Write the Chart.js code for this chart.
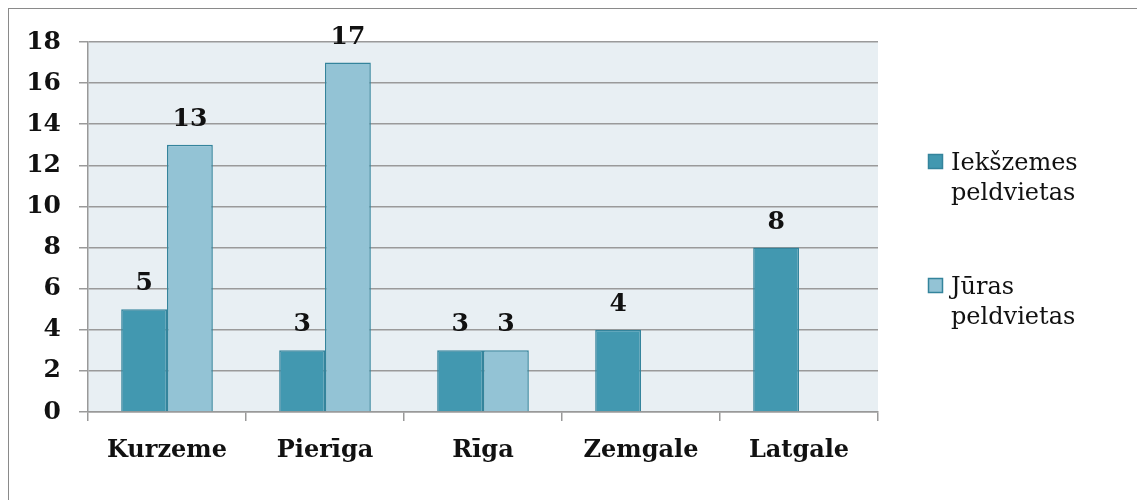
<!DOCTYPE html>
<html>
<head>
<meta charset="utf-8">
<script src="https://cdn.jsdelivr.net/npm/chart.js@4.4.1/dist/chart.umd.min.js"></script>
<style>
html,body{margin:0;padding:0;background:#fff;}
#wrap{width:1137px;height:500px;position:relative;}
</style>
</head>
<body>
<div id="wrap"><canvas id="c" width="1137" height="500"></canvas></div>
<script>
const categories = ["Kurzeme", "Pierīga", "Rīga", "Zemgale", "Latgale"];
const inlandValues = [5, 3, 3, 4, 8];
const seaValues = [13, 17, 3, null, null];
const seriesNames = [["Iekšzemes", "peldvietas"], ["Jūras", "peldvietas"]];
const yTicks = [0, 2, 4, 6, 8, 10, 12, 14, 16, 18];

const FONT = "'DejaVu Serif', serif";
const DARK = "#4298b0";
const LIGHT = "#93c3d5";
const EDGE = "#34849c";

const bgPlugin = {
  id: "bg",
  beforeDraw(chart) {
    const {ctx, chartArea: a} = chart;
    ctx.save();
    ctx.fillStyle = "#fff";
    ctx.fillRect(0, 0, chart.width, chart.height);
    ctx.strokeStyle = "#8a8a8a";
    ctx.lineWidth = 1;
    ctx.strokeRect(8.5, 8.5, 1300, 700);
    ctx.fillStyle = "#e8eff3";
    ctx.fillRect(a.left, a.top, a.right - a.left, a.bottom - a.top);
    ctx.restore();
  }
};

const labelPlugin = {
  id: "vals",
  afterDatasetsDraw(chart) {
    const ctx = chart.ctx;
    ctx.save();
    ctx.font = "bold 25px " + FONT;
    ctx.fillStyle = "#111";
    ctx.textAlign = "center";
    ctx.textBaseline = "alphabetic";
    chart.data.datasets.forEach((ds, i) => {
      const meta = chart.getDatasetMeta(i);
      meta.data.forEach((bar, j) => {
        const v = ds.data[j];
        if (v === null || v === undefined) return;
        ctx.fillText(String(v), bar.x, bar.y - 19);
      });
    });
    ctx.restore();
  }
};

const legendPlugin = {
  id: "customLegend",
  afterDraw(chart) {
    const ctx = chart.ctx;
    ctx.save();
    ctx.font = "24px " + FONT;
    ctx.textBaseline = "alphabetic";
    ctx.textAlign = "left";
    const tops = [154, 278];
    chart.data.datasets.forEach((ds, i) => {
      const y = tops[i];
      ctx.fillStyle = ds.backgroundColor;
      ctx.fillRect(928, y, 15, 15);
      ctx.strokeStyle = EDGE;
      ctx.lineWidth = 1.5;
      ctx.strokeRect(928.5, y + 0.5, 14, 14);
      ctx.fillStyle = "#111";
      const lines = seriesNames[i];
      lines.forEach((t, k) => {
        ctx.fillText(t, 951, y + 16 + k * 30);
      });
    });
    ctx.restore();
  }
};

new Chart(document.getElementById("c"), {
  type: "bar",
  data: {
    labels: categories,
    datasets: [
      {label: seriesNames[0].join(" "), data: inlandValues, backgroundColor: DARK, borderColor: EDGE, borderWidth: 1.5, categoryPercentage: 0.58, barPercentage: 1.0},
      {label: seriesNames[1].join(" "), data: seaValues, backgroundColor: LIGHT, borderColor: EDGE, borderWidth: 1.5, categoryPercentage: 0.58, barPercentage: 1.0}
    ]
  },
  options: {
    responsive: false,
    animation: false,
    layout: {padding: {left: 0, top: 42, right: 259, bottom: 0}},
    plugins: {legend: {display: false}, tooltip: {enabled: false}},
    scales: {
      x: {
        offset: true,
        grid: {display: true, drawOnChartArea: false, drawTicks: true, tickLength: 9, color: "#999", lineWidth: 1.5, offset: true},
        border: {display: true, color: "#999", width: 1.5},
        ticks: {color: "#111", font: {family: FONT, size: 24, weight: "bold"}, padding: 15, maxRotation: 0},
        afterFit(s) { s.height = 88; }
      },
      y: {
        min: 0, max: 18,
        afterBuildTicks(s) { s.ticks = yTicks.map(v => ({value: v})); },
        grid: {color: "#9a9a9a", lineWidth: 1.5, tickLength: 9, drawTicks: true},
        border: {display: true, color: "#999", width: 1.5},
        ticks: {color: "#111", font: {family: FONT, size: 25, weight: "bold"}, padding: 18},
        afterFit(s) { s.width = 88; }
      }
    }
  },
  plugins: [bgPlugin, labelPlugin, legendPlugin]
});
</script>
</body>
</html>
